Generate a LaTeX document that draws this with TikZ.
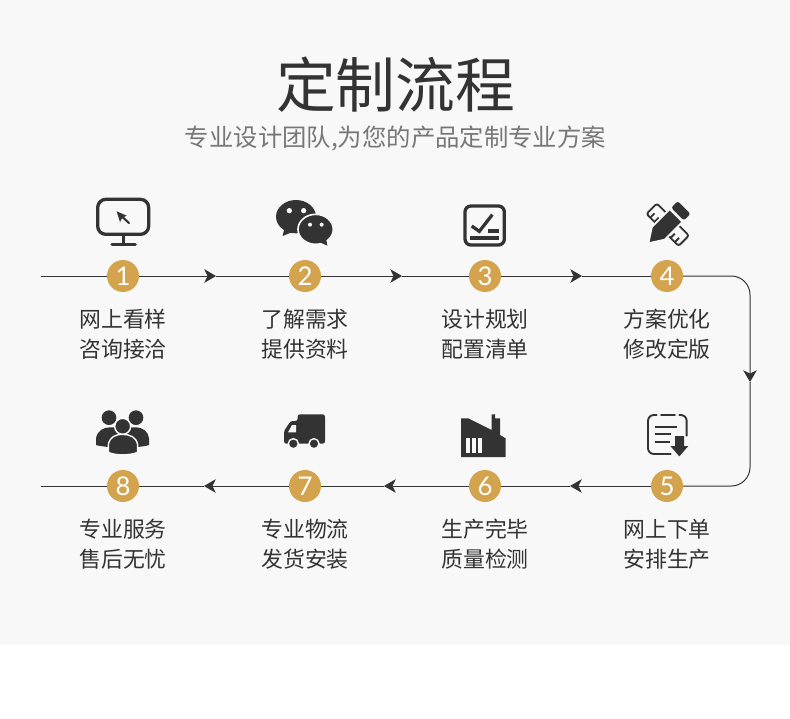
\documentclass[tikz,border=0pt]{standalone}
\usepackage{fontspec}
\usepackage{tikz}
\setmainfont{Noto Sans CJK SC}
\newfontfamily\numfont{Lato}
\usetikzlibrary{arrows.meta}
\definecolor{pagebg}{HTML}{F8F8F8}
\definecolor{ink}{HTML}{333333}
\definecolor{gold}{HTML}{D3A34E}
\definecolor{subgray}{HTML}{777777}

\tikzset{
  numdot/.style={circle, fill=gold, text=white, minimum size=27.3pt, inner sep=0pt, font=\numfont\fontsize{22}{22}\selectfont},
  steptext/.style={text=ink, align=center, font=\fontsize{18.65}{25.6}\selectfont},
  flowline/.style={ink, line width=0.85pt},
  flowarrow/.style={flowline, -{Stealth[length=10pt, width=11.6pt, inset=2.8pt]}},
  iconline/.style={draw=ink, line cap=round, line join=round},
}

\begin{document}
\begin{tikzpicture}[x=0.03cm, y=-0.03cm]
  % Page and grey panel
  \useasboundingbox (0,0) rectangle (790,718);
  \fill[white] (0,0) rectangle (790,718);
  \fill[pagebg] (0,0) rectangle (790,645);

  % Heading
  \node[text=ink, font=\fontsize{51}{51}\selectfont] (title) at (395.5,85) {定制流程};
  \node[text=subgray, font=\fontsize{20.8}{24}\selectfont] (subtitle) at (395.5,138.5) {专业设计团队,为您的产品定制专业方案};

  % Numbered steps
  \node[numdot] (n1) at (123,276) {1};
  \node[numdot] (n2) at (305,276) {2};
  \node[numdot] (n3) at (485,276) {3};
  \node[numdot] (n4) at (667,276) {4};
  \node[numdot] (n5) at (667,486) {5};
  \node[numdot] (n6) at (485,486) {6};
  \node[numdot] (n7) at (305,486) {7};
  \node[numdot] (n8) at (123,486) {8};

  % Step texts
  \node[steptext] (t1) at (123,334) {网上看样\\咨询接洽};
  \node[steptext] (t2) at (305,334) {了解需求\\提供资料};
  \node[steptext] (t3) at (485,334) {设计规划\\配置清单};
  \node[steptext] (t4) at (667,334) {方案优化\\修改定版};
  \node[steptext] (t5) at (667,544) {网上下单\\安排生产};
  \node[steptext] (t6) at (485,544) {生产完毕\\质量检测};
  \node[steptext] (t7) at (305,544) {专业物流\\发货安装};
  \node[steptext] (t8) at (123,544) {专业服务\\售后无忧};

  % Free ends, bends and arrow positions
  \coordinate (startA) at (41,276);
  \coordinate (startB) at (41,486);
  \coordinate (a12) at (216,276);
  \coordinate (a23) at (402,276);
  \coordinate (a34) at (582,276);
  \coordinate (a45) at (750,382);
  \coordinate (a56) at (570,486);
  \coordinate (a67) at (384,486);
  \coordinate (a78) at (204,486);
  \coordinate (bendA) at (750,276);
  \coordinate (bendB) at (750,486);

  % Connectors
  \draw[flowline] (startA) -- (n1);
  \draw[flowarrow] (n1) -- (a12);
  \draw[flowline] (a12) -- (n2);
  \draw[flowarrow] (n2) -- (a23);
  \draw[flowline] (a23) -- (n3);
  \draw[flowarrow] (n3) -- (a34);
  \draw[flowline] (a34) -- (n4);
  \draw[flowarrow, rounded corners=16pt] (n4) -- (bendA) -- (a45);
  \draw[flowline, rounded corners=16pt] (a45) -- (bendB) -- (n5);
  \draw[flowarrow] (n5) -- (a56);
  \draw[flowline] (a56) -- (n6);
  \draw[flowarrow] (n6) -- (a67);
  \draw[flowline] (a67) -- (n7);
  \draw[flowarrow] (n7) -- (a78);
  \draw[flowline] (a78) -- (n8);
  \draw[flowline] (n8) -- (startB);

  % Monitor
  \begin{scope}[shift={(60,180)}, scale=1/3]
    \draw[iconline, line width=2.8pt, rounded corners=7pt] (113,58) rectangle (266,163);
    \draw[iconline, line width=2.6pt] (190,165) -- (190,194);
    \draw[iconline, line width=2.6pt] (156,194) -- (226,194);
    \fill[ink] (170,94) -- (200,107) -- (187,113) -- (180,126) -- cycle;
    \draw[iconline, line width=1.8pt] (185,109) -- (207,129);
  \end{scope}

  % Chat bubbles
  \begin{scope}[shift={(60,180)}, scale=1/3]
    \fill[ink] (708,110) ellipse (60 and 50);
    \fill[ink] (668,168) -- (674,140) -- (700,155) -- cycle;
    \fill[pagebg] (688,92) circle (8);
    \fill[pagebg] (731,92) circle (8);
    \draw[pagebg, line width=1.4pt, fill=ink] (767,148) ellipse (53 and 45);
    \fill[ink] (802,197) -- (775,185) -- (798,175) -- cycle;
    \fill[pagebg] (750,134) circle (6);
    \fill[pagebg] (785,134) circle (6);
  \end{scope}

  % Check list
  \begin{scope}[shift={(430,180)}, scale=1/3]
    \draw[iconline, line width=2.8pt, rounded corners=5pt] (105,78) rectangle (223,195);
    \draw[ink, line width=2.8pt, line join=miter] (125,138) -- (148,154) -- (187,104);
    \draw[ink, line width=2.6pt] (175,153) -- (207,153);
    \draw[ink, line width=2.8pt] (120,174) -- (207,174);
  \end{scope}

  % Ruler and pencil
  \begin{scope}[shift={(667.7,224.7)}, rotate=-45, scale=1/3]
    \draw[iconline, line width=1.6pt, rounded corners=2pt] (-68,-22) rectangle (68,22);
    \draw[ink, line width=1.6pt] (-52,22) -- (-52,4);
    \draw[ink, line width=1.6pt] (-34,22) -- (-34,4);
    \draw[ink, line width=1.6pt] (34,22) -- (34,4);
    \draw[ink, line width=1.6pt] (52,22) -- (52,4);
  \end{scope}
  \begin{scope}[shift={(648.3,243.3)}, rotate=45, scale=1/3]
    \draw[draw=pagebg, fill=ink, line width=1.6pt] (0,0) -- (42,-27) -- (118,-27) -- (118,27) -- (42,27) -- cycle;
    \fill[ink, rounded corners=2pt] (124,-27) rectangle (152,27);
  \end{scope}

  % Order sheet
  \begin{scope}[shift={(430,395)}, scale=1/3]
    \draw[iconline, line width=1.6pt, rounded corners=5pt] (680,60) -- (654,60) -- (654,177) -- (722,177);
    \draw[iconline, line width=1.6pt] (693,60) -- (735,60);
    \draw[iconline, line width=1.6pt, rounded corners=5pt] (748,60) -- (770,60) -- (770,122);
    \draw[ink, line width=1.5pt] (675,95) -- (742,95);
    \draw[ink, line width=1.5pt] (675,118) -- (722,118);
    \draw[ink, line width=1.5pt] (675,140) -- (720,140);
    \fill[ink] (735,123) -- (762,123) -- (762,153) -- (775,153) -- (748,184) -- (721,153) -- (735,153) -- cycle;
  \end{scope}

  % Factory
  \begin{scope}[shift={(430,395)}, scale=1/3]
    \fill[ink] (93,70) -- (115,70) -- (185,105) -- (185,58) -- (195,58) -- (195,70) -- (210,70) -- (210,120) -- (227,130) -- (227,186) -- (93,186) -- cycle;
    \fill[pagebg] (108,130) rectangle (120,175);
    \fill[pagebg] (126,130) rectangle (138,175);
    \fill[pagebg] (144,130) rectangle (156,175);
  \end{scope}

  % Truck
  \begin{scope}[shift={(60,395)}, scale=1/3]
    \fill[ink, rounded corners=2pt] (713,58) -- (795,58) -- (795,146) -- (672,146) -- (672,108) -- (692,78) -- (713,78) -- cycle;
    \fill[pagebg] (684,112) -- (696,90) -- (708,90) -- (708,112) -- cycle;
    \draw[pagebg, fill=ink, line width=1.2pt] (700,146) circle (15);
    \draw[pagebg, fill=ink, line width=1.2pt] (762,146) circle (15);
  \end{scope}

  % People
  \begin{scope}[shift={(60,395)}, scale=1/3]
    \fill[ink] (147,68) circle (22);
    \fill[ink] (228,68) circle (22);
    \fill[ink] (108,150) -- (108,130) .. controls (112,107) and (130,97) .. (150,97) -- (225,97) .. controls (250,97) and (265,110) .. (267,130) -- (267,150) .. controls (240,160) and (140,160) .. (108,150);
    \draw[pagebg, fill=ink, line width=1.2pt] (188,94) circle (24);
    \draw[pagebg, fill=ink, line width=1.2pt] (145,172) -- (145,150) .. controls (148,127) and (165,118) .. (188,118) .. controls (210,118) and (230,127) .. (233,150) -- (233,172) .. controls (210,182) and (165,182) .. (145,172) -- cycle;
  \end{scope}
\end{tikzpicture}
\end{document}
